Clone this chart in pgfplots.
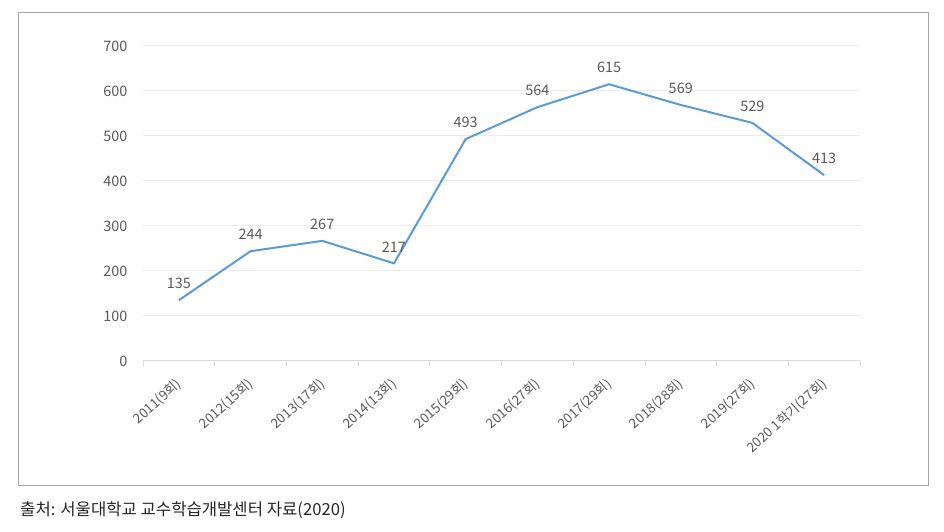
\documentclass[border=0pt]{standalone}
\usepackage{pgfplots}
\pgfplotsset{compat=1.18}
\usepackage{fontspec}
\setmainfont{Noto Sans CJK KR}
\definecolor{lineblue}{HTML}{5B9BD5}
\definecolor{txtgray}{HTML}{595959}
\definecolor{gridgray}{HTML}{EBEBEB}
\definecolor{axgray}{HTML}{D9D9D9}
\definecolor{framegray}{HTML}{A6A6A6}
\begin{document}
\begin{tikzpicture}[x=1bp,y=1bp]
\useasboundingbox (0,0) rectangle (944,532);
\draw[framegray, line width=0.8bp] (18,520) rectangle (928,47);
\node[anchor=west, font=\fontsize{16.7}{18}\selectfont, text=black!85, inner sep=0pt] at (20,22) {출처: 서울대학교 교수학습개발센터 자료(2020)};
\begin{axis}[
  at={(143bp,171bp)}, anchor=south west,
  scale only axis, width=717bp, height=315bp,
  xmin=-0.5, xmax=9.5, ymin=0, ymax=700,
  ytick={0,100,...,700},
  xtick={0,...,9},
  xticklabels={2011(9회),2012(15회),2013(17회),2014(13회),2015(29회),2016(27회),2017(29회),2018(28회),2019(27회),2020 1학기(27회)},
  x tick label style={xshift=-4bp, yshift=-16bp, rotate=42, anchor=north east, font=\fontsize{13.5}{14}\selectfont, text=txtgray, inner sep=0pt},
  y tick label style={font=\fontsize{14.5}{15}\selectfont, text=txtgray, xshift=-12bp},
  /pgf/number format/assume math mode=true,
  major tick length=0pt,
  extra x ticks={-0.5,0.5,...,9.5},
  extra x tick labels={},
  extra x tick style={major tick length=5bp, tick align=outside, major tick style={axgray, line width=0.8bp}, grid=none},
  axis x line*=bottom, axis y line*=left,
  y axis line style={draw=none},
  x axis line style={axgray, line width=1bp, -},
  ymajorgrids, grid style={gridgray, line width=1bp},
  clip=false,
  nodes near coords,
  every node near coord/.append style={font=\fontsize{14.5}{15}\selectfont, text=txtgray, yshift=7bp},
]
\addplot[lineblue, line width=2bp, mark=none] coordinates {
(0,135) (1,244) (2,267) (3,217) (4,493) (5,564) (6,615) (7,569) (8,529) (9,413)
};
\end{axis}
\end{tikzpicture}
\end{document}
